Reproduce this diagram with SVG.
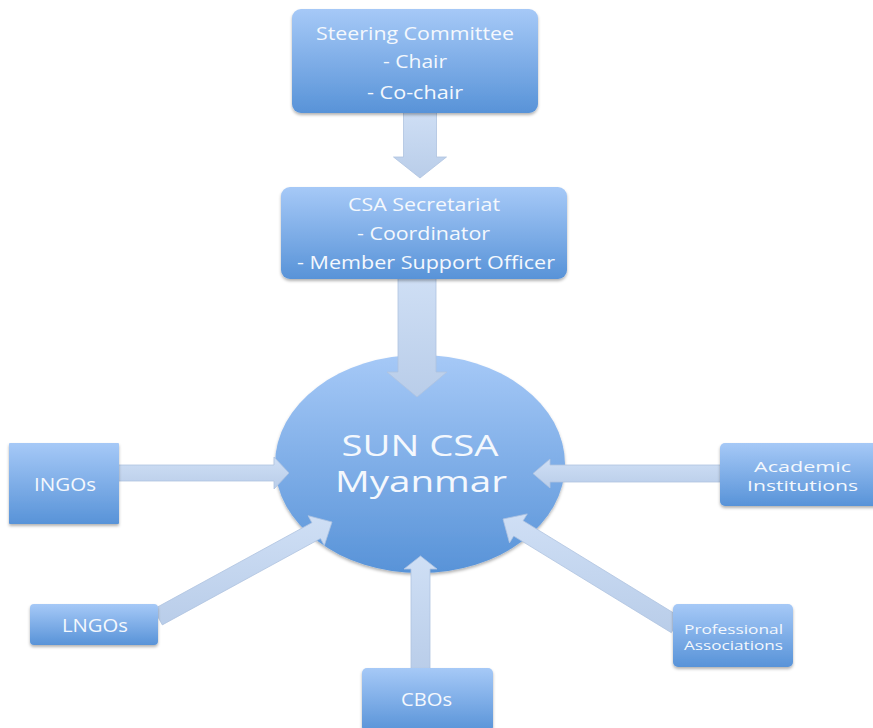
<svg xmlns="http://www.w3.org/2000/svg" width="873" height="728" viewBox="0 0 873 728">
<defs>
<linearGradient id="gBox" x1="0" y1="0" x2="0" y2="1">
<stop offset="0" stop-color="#a6c9f7"/>
<stop offset="1" stop-color="#5893d8"/>
</linearGradient>
<linearGradient id="gArrow" x1="0" y1="0" x2="0" y2="1">
<stop offset="0" stop-color="#cfdff5"/>
<stop offset="1" stop-color="#b9cde9"/>
</linearGradient>
<filter id="sh" x="-20%" y="-20%" width="140%" height="140%">
<feDropShadow dx="0" dy="2" stdDeviation="1.5" flood-color="#000" flood-opacity="0.3"/>
</filter>
</defs>
<style>
.box{fill:url(#gBox);filter:url(#sh);}
.arr{fill:url(#gArrow);stroke:#aec3e0;stroke-width:0.8;}
text{font-family:"Open Sans","Liberation Sans",sans-serif;fill:#f4f8fd;text-anchor:middle;}
.t18{font-size:19px;}
.t17{font-size:14px;}
.t14{font-size:12px;}
.big{font-size:28.5px;}
</style>
<g id="sun-csa">
<ellipse class="box" cx="420" cy="464" rx="145" ry="109"/>
<text class="big" x="420" y="456" textLength="157" lengthAdjust="spacingAndGlyphs">SUN CSA</text>
<text class="big" x="421" y="492" textLength="172" lengthAdjust="spacingAndGlyphs">Myanmar</text>
</g>
<g id="connectors">
<polygon class="arr" points="403.5,110 436.5,110 436.5,157 446.5,157 420,178 393.5,157 403.5,157"/>
<polygon class="arr" points="398,276 436,276 436,372 447,372 417,397 387,372 398,372"/>
<polygon class="arr" points="116,465 274,465 274,457 289,473 274,489 274,481 116,481"/>
<polygon class="arr" points="723,465 550,465 550,459 533,473.5 550,488 550,482 723,482"/>
<polygon class="arr" points="411,671 411,569 404,569 420.5,556 437,569 430,569 430,671"/>
<polygon class="arr" points="162.3,624.9 320.5,538.5 324.3,545.5 332,522 308.1,515.7 311.9,522.7 153.7,609.1"/>
<polygon class="arr" points="680.7,617.3 523.1,520.7 527.3,513.9 503,519 509.5,542.9 513.7,536.1 671.3,632.7"/>
</g>
<g id="steering-committee">
<rect class="box" x="292" y="9" width="246" height="104" rx="9"/>
<text class="t18" x="415" y="40" textLength="198" lengthAdjust="spacingAndGlyphs">Steering Committee</text>
<text class="t18" x="415" y="68" textLength="64" lengthAdjust="spacingAndGlyphs">- Chair</text>
<text class="t18" x="415" y="99" textLength="96" lengthAdjust="spacingAndGlyphs">- Co-chair</text>
</g>
<g id="csa-secretariat">
<rect class="box" x="281" y="187" width="286" height="92" rx="9"/>
<text class="t18" x="424" y="211" textLength="152" lengthAdjust="spacingAndGlyphs">CSA Secretariat</text>
<text class="t18" x="423.5" y="240" textLength="133" lengthAdjust="spacingAndGlyphs">- Coordinator</text>
<text class="t18" x="426" y="269" textLength="258" lengthAdjust="spacingAndGlyphs">- Member Support Officer</text>
</g>
<g id="ingos">
<rect class="box" x="9" y="443" width="110" height="81" rx="1"/>
<text class="t18" x="65" y="491" textLength="62" lengthAdjust="spacingAndGlyphs">INGOs</text>
</g>
<g id="lngos">
<rect class="box" x="30" y="604" width="128" height="41" rx="4"/>
<text class="t18" x="95" y="632" textLength="66" lengthAdjust="spacingAndGlyphs">LNGOs</text>
</g>
<g id="cbos">
<rect class="box" x="362" y="668" width="131" height="64" rx="5"/>
<text class="t18" x="426.5" y="706" textLength="51" lengthAdjust="spacingAndGlyphs">CBOs</text>
</g>
<g id="academic-institutions">
<rect class="box" x="720" y="443" width="160" height="63" rx="5"/>
<text class="t17" x="802.5" y="471.5" textLength="97" lengthAdjust="spacingAndGlyphs">Academic</text>
<text class="t17" x="802.5" y="491" textLength="111" lengthAdjust="spacingAndGlyphs">Institutions</text>
</g>
<g id="professional-associations">
<rect class="box" x="673" y="604" width="120" height="63" rx="5"/>
<text class="t14" x="733.5" y="633.5" textLength="99" lengthAdjust="spacingAndGlyphs">Professional</text>
<text class="t14" x="733.5" y="650" textLength="99" lengthAdjust="spacingAndGlyphs">Associations</text>
</g>
</svg>
